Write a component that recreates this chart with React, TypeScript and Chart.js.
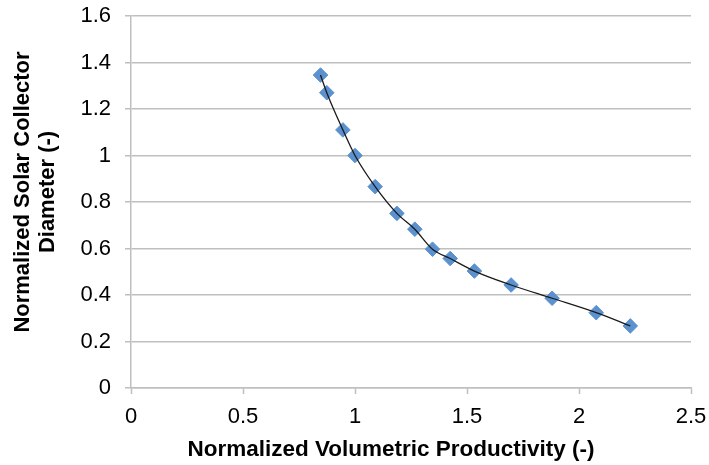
import React, { useEffect, useRef } from "react";
import { Chart, registerables } from "chart.js";

Chart.register(...registerables);

// Normalized volumetric productivity (x) and normalized solar collector diameter (y)
const productivity = [0.846, 0.874, 0.946, 1.0, 1.09, 1.187, 1.267, 1.346, 1.425, 1.533, 1.697, 1.88, 2.077, 2.229];
const diameter = [1.346, 1.27, 1.11, 1.0, 0.866, 0.751, 0.683, 0.597, 0.557, 0.503, 0.443, 0.386, 0.324, 0.267];

const xTitle = "Normalized Volumetric Productivity (-)";
const yTitle = ["Normalized Solar Collector", "Diameter (-)"];
const xRange = [0, 2.5, 0.5];
const yRange = [0, 1.6, 0.2];

const fmt = (v: any) => String(Number(Number(v).toFixed(2)));

// shift an axis title by (dx, dy) pixels while keeping it a normal scale title
const shiftTitle = (s: any, dx: number, dy: number) => {
  if (s.__shifted) return;
  const orig = s.drawTitle;
  s.drawTitle = function () {
    this.ctx.save();
    this.ctx.translate(dx, dy);
    orig.call(this);
    this.ctx.restore();
  };
  s.__shifted = true;
};

export default function App() {
  const ref = useRef<HTMLCanvasElement | null>(null);

  useEffect(() => {
    const canvas = ref.current;
    if (!canvas) return;
    const points = productivity.map((x, i) => ({ x, y: diameter[i] }));
    const gridGray = "#bfbfbf";
    const family = "Liberation Sans, Arial, sans-serif";
    const chart = new Chart(canvas, {
      type: "scatter",
      data: {
        datasets: [
          {
            label: "Trend",
            data: points,
            showLine: true,
            borderColor: "#1a1a1a",
            borderWidth: 1.3,
            pointRadius: 0,
            cubicInterpolationMode: "monotone",
          },
          {
            label: "Data",
            data: points,
            showLine: false,
            pointStyle: "rectRot",
            pointRadius: 7.3,
            backgroundColor: "#5c91cf",
            borderColor: "#5c91cf",
            pointBorderWidth: 1,
          },
        ],
      },
      options: {
        animation: false,
        responsive: false,
        layout: { padding: { top: 16, right: 18, left: 0, bottom: 0 } },
        plugins: { legend: { display: false }, tooltip: { enabled: false } },
        scales: {
          x: {
            type: "linear",
            min: xRange[0],
            max: xRange[1],
            afterFit: (s: any) => {
              s.height = 77;
              s.paddingLeft = 0;
              s.paddingRight = 0;
              shiftTitle(s, -20, 0);
            },
            ticks: {
              stepSize: xRange[2],
              color: "#000",
              padding: 10,
              font: { family, size: 22 },
              maxRotation: 0,
              callback: fmt,
            },
            grid: {
              drawOnChartArea: false,
              drawTicks: true,
              tickLength: 6,
              tickColor: gridGray,
              tickWidth: 1.5,
            },
            border: { color: gridGray, width: 1.5 },
            title: {
              display: true,
              text: xTitle,
              color: "#000",
              padding: { top: 0, bottom: 2 },
              font: { family, size: 22.5, weight: "bold", lineHeight: 1.2 },
            },
          },
          y: {
            type: "linear",
            min: yRange[0],
            max: yRange[1],
            afterFit: (s: any) => {
              s.width = 131;
              s.paddingTop = 0;
              s.paddingBottom = 0;
              shiftTitle(s, 0, -10);
            },
            ticks: {
              stepSize: yRange[2],
              color: "#000",
              padding: 14,
              font: { family, size: 22 },
              callback: fmt,
            },
            grid: {
              color: gridGray,
              lineWidth: 1.5,
              drawTicks: true,
              tickLength: 6,
              tickColor: gridGray,
              tickWidth: 1.5,
            },
            border: { color: gridGray, width: 1.5 },
            title: {
              display: true,
              text: yTitle,
              color: "#000",
              padding: { top: 10.5, bottom: 0 },
              font: { family, size: 22, weight: "bold", lineHeight: 25 / 22 },
            },
          },
        },
      },
    });
    return () => chart.destroy();
  }, []);

  return (
    <div style={{ position: "absolute", left: 0, top: 0, width: 709, height: 465, background: "#fff" }}>
      <canvas ref={ref} width={709} height={465} />
    </div>
  );
}
